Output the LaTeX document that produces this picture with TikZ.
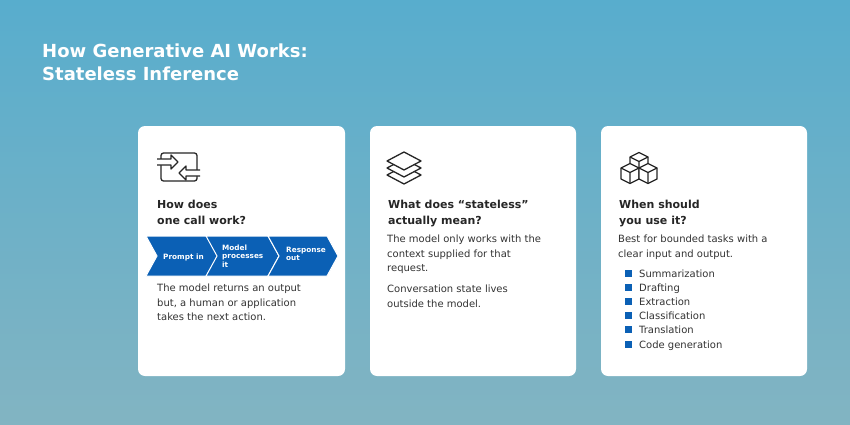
\documentclass[tikz,border=0pt]{standalone}
\usepackage{fontspec}
\setmainfont{DejaVu Sans}
\begin{document}
\begin{tikzpicture}[x=1pt,y=-1pt,
 card/.style={fill=white,rounded corners=7pt},
 head/.style={anchor=north west,inner sep=0pt,align=left,font=\fontsize{11}{16}\selectfont\bfseries,text=black!85},
 body/.style={anchor=north west,inner sep=0pt,align=left,font=\fontsize{10}{14.3}\selectfont,text=black!80},
 chev/.style={fill=chevblue,draw=white,line width=1pt},
 ctext/.style={font=\fontsize{7.3}{8.3}\selectfont\bfseries,text=white,align=left,anchor=west,inner sep=0pt},
 ic/.style={draw=black!85,line width=1.3pt,line join=round}]
\definecolor{bgtop}{HTML}{58ADCD}
\definecolor{bgbot}{HTML}{82B4C2}
\definecolor{chevblue}{HTML}{0B60B5}
\useasboundingbox (0,0) rectangle (850,425);
\shade[top color=bgtop,bottom color=bgbot] (0,0) rectangle (850,425);
\node[anchor=north west,inner sep=0pt,align=left,text=white,font=\fontsize{18}{23}\selectfont\bfseries] (title) at (42,44) {How Generative AI Works:\\Stateless Inference};
\path[card] (138,126) rectangle (345,376);
\path[card] (370,126) rectangle (576,376);
\path[card] (601,126) rectangle (807,376);
% icon 1
\draw[ic,rounded corners=2.5pt] (161,153) rectangle (197,181);
\draw[ic,fill=white] (157,159) -- (171,159) -- (171,155) -- (178,162) -- (171,169) -- (171,165) -- (157,165);
\draw[ic,fill=white] (200,170) -- (186,170) -- (186,166) -- (179,173) -- (186,180) -- (186,176) -- (200,176);
% icon 2
\foreach \d in {14,7,0}
 \draw[ic,fill=white] (387,{161+\d}) -- (404,{152+\d}) -- (421,{161+\d}) -- (404,{170+\d}) -- cycle;
% icon 3 cubes
\newcommand\cube[2]{\draw[ic,fill=white] (#1,#2) -- ++(9,-4.5) -- ++(9,4.5) -- ++(0,11) -- ++(-9,4.5) -- ++(-9,-4.5) -- cycle;
 \draw[ic] (#1,#2) -- ++(9,4.5) -- ++(9,-4.5) (#1+9,#2+4.5) -- ++(0,11);}
\cube{630}{157}
\cube{621}{168}
\cube{639}{168}
\node[head] (h1) at (157,200) {How does\\one call work?};
\node[head] (h2) at (388,200) {What does “stateless”\\actually mean?};
\node[head] (h3) at (619,200) {When should\\you use it?};
% chevrons
\path[chev] (146,236) -- (207,236) -- (218,256) -- (207,276) -- (146,276) -- (157,256) -- cycle;
\path[chev] (206,236) -- (268,236) -- (279,256) -- (268,276) -- (206,276) -- (217,256) -- cycle;
\path[chev] (268,236) -- (327,236) -- (338,256) -- (327,276) -- (268,276) -- (279,256) -- cycle;
\node[ctext] (c1) at (163,257) {Prompt in};
\node[ctext] (c2) at (222,256) {Model\\processes\\it};
\node[ctext] (c3) at (286,254) {Response\\out};
\node[body] (b1) at (157,284) {The model returns an output\\but, a human or application\\takes the next action.};
\node[body] (b2) at (387,235) {The model only works with the\\context supplied for that\\request.};
\node[body] (b2b) at (387,285) {Conversation state lives\\outside the model.};
\node[body] (b3) at (618,235) {Best for bounded tasks with a\\clear input and output.};
\foreach \t [count=\i] in {Summarization,Drafting,Extraction,Classification,Translation,Code generation}{
 \fill[chevblue] (625,{269.5+14.2*(\i-1)}) rectangle ++(7,7);
 \node[body,anchor=base west] (l\i) at (639,{277+14.2*(\i-1)}) {\t};}
\end{tikzpicture}
\end{document}
